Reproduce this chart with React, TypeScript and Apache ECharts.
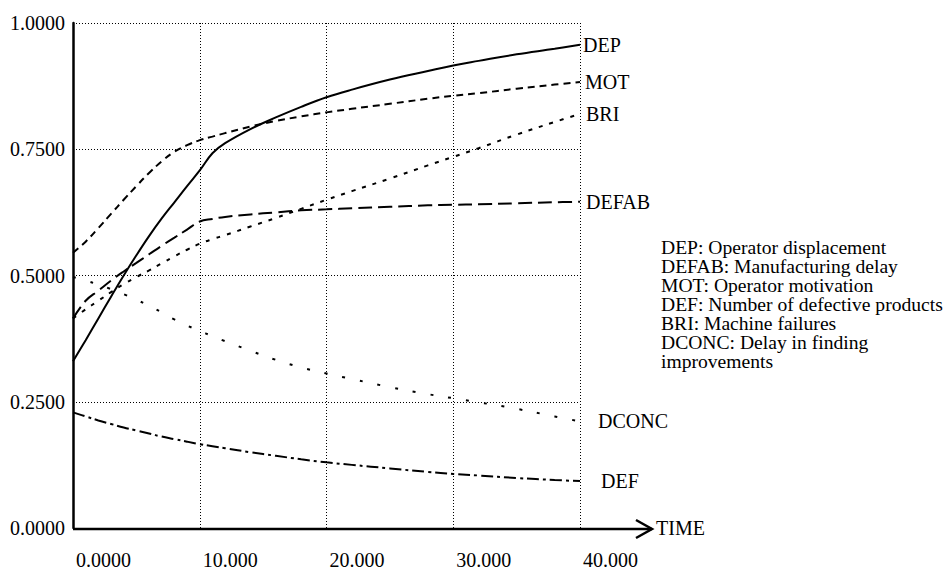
import React, { useEffect, useRef } from "react";
import * as echarts from "echarts";

const times = [0, 1, 2, 3, 4, 5, 6, 7, 8, 9, 10, 11, 12, 14, 16, 18, 20, 22, 25, 28, 30, 32, 35, 38, 40];

const DEP = [0.33, 0.372, 0.415, 0.458, 0.5, 0.54, 0.578, 0.613, 0.645, 0.677, 0.708, 0.742, 0.762, 0.79, 0.813, 0.834, 0.853, 0.868, 0.888, 0.905, 0.916, 0.925, 0.938, 0.949, 0.957];
const MOT = [0.545, 0.567, 0.594, 0.622, 0.65, 0.677, 0.703, 0.726, 0.745, 0.758, 0.768, 0.775, 0.782, 0.795, 0.806, 0.815, 0.823, 0.83, 0.84, 0.85, 0.856, 0.861, 0.87, 0.878, 0.883];
const BRI = [0.415, 0.433, 0.45, 0.467, 0.483, 0.497, 0.51, 0.524, 0.538, 0.551, 0.563, 0.572, 0.58, 0.597, 0.614, 0.632, 0.65, 0.667, 0.692, 0.718, 0.735, 0.752, 0.779, 0.804, 0.82];
const DEFAB = [0.415, 0.45, 0.47, 0.49, 0.508, 0.525, 0.542, 0.559, 0.575, 0.591, 0.607, 0.612, 0.616, 0.621, 0.625, 0.629, 0.631, 0.633, 0.636, 0.639, 0.64, 0.641, 0.643, 0.645, 0.646];
const DCONC = [0.497, 0.49, 0.482, 0.473, 0.463, 0.452, 0.44, 0.427, 0.413, 0.401, 0.39, 0.38, 0.37, 0.351, 0.333, 0.318, 0.306, 0.295, 0.279, 0.265, 0.257, 0.249, 0.236, 0.221, 0.211];
const DEF = [0.229, 0.221, 0.213, 0.206, 0.199, 0.193, 0.187, 0.181, 0.176, 0.171, 0.166, 0.162, 0.158, 0.15, 0.143, 0.136, 0.13, 0.125, 0.118, 0.111, 0.107, 0.104, 0.099, 0.095, 0.093];

const xTickLabels = ["0.0000", "10.000", "20.000", "30.000", "40.000"];
const legendLines = [
  "DEP: Operator displacement",
  "DEFAB: Manufacturing delay",
  "MOT: Operator motivation",
  "DEF: Number of defective products",
  "BRI: Machine failures",
  "DCONC: Delay in finding",
  "improvements",
];

const FONT = "Liberation Serif";

export default function App() {
  const ref = useRef<HTMLDivElement>(null);
  useEffect(() => {
    if (!ref.current) return;
    const chart = echarts.init(ref.current, undefined, { renderer: "svg" });
    const mk = (name: string, vals: number[], dash: any, dist: number) => ({
      name,
      type: "line",
      data: times.map((t, i) => [t, vals[i]]),
      showSymbol: false,
      smooth: 0.4,
      lineStyle: { color: "#000", width: 2, type: dash },
      endLabel: {
        show: true,
        formatter: "{a}",
        distance: dist,
        color: "#000",
        fontFamily: FONT,
        fontSize: 20,
      },
      z: 3,
    });
    const L = 73, T = 23, W = 507, H = 506;
    chart.setOption({
      animation: false,
      backgroundColor: "#fff",
      textStyle: { fontFamily: FONT },
      grid: { left: L, top: T, width: W, height: H, containLabel: false },
      xAxis: {
        type: "value",
        min: 0,
        max: 40,
        interval: 10,
        name: "TIME",
        nameLocation: "end",
        nameGap: 76,
        nameTextStyle: { color: "#000", fontFamily: FONT, fontSize: 20, padding: [0, 0, 8, 0] },
        axisLine: { show: false },
        axisTick: { show: false },
        axisLabel: {
          color: "#000",
          fontFamily: FONT,
          fontSize: 20,
          margin: 22,
          align: "left",
          padding: [0, 0, 0, 3],
          formatter: (v: number) => xTickLabels[Math.round(v / 10)] ?? "",
        },
        splitLine: { show: true, lineStyle: { color: "#000", width: 1, type: [1, 2] } },
      },
      yAxis: {
        type: "value",
        min: 0,
        max: 1,
        interval: 0.25,
        axisLine: { show: true, lineStyle: { color: "#000", width: 2.5 } },
        axisTick: { show: false },
        axisLabel: {
          color: "#000",
          fontFamily: FONT,
          fontSize: 20,
          margin: 8,
          padding: [0, 0, 8, 0],
          formatter: (v: number) => v.toFixed(4),
        },
        splitLine: { show: true, lineStyle: { color: "#000", width: 1, type: [1, 2] } },
      },
      series: [
        mk("DEP", DEP, "solid", 3),
        mk("MOT", MOT, [7, 5], 5),
        mk("BRI", BRI, [4, 7], 6),
        mk("DEFAB", DEFAB, [14, 6], 6),
        mk("DCONC", DCONC, [3, 15], 18),
        mk("DEF", DEF, [12, 4, 3, 4], 21),
      ],
      graphic: [
        {
          type: "line",
          shape: { x1: L, y1: T + H, x2: 652, y2: T + H },
          style: { stroke: "#000", lineWidth: 2.5 },
          z: 10,
        },
        {
          type: "polyline",
          shape: { points: [[636, T + H - 9], [652, T + H], [636, T + H + 9]] },
          style: { stroke: "#000", lineWidth: 2.5, fill: "none" },
          z: 10,
        },
        {
          type: "text",
          left: 661,
          top: 237,
          style: {
            text: legendLines.join("\n"),
            fontFamily: FONT,
            fontSize: 19.6,
            lineHeight: 19,
            fill: "#000",
          },
        },
      ],
    });
    return () => chart.dispose();
  }, []);
  return (
    <div
      ref={ref}
      style={{ position: "absolute", left: 0, top: 0, width: 951, height: 570 }}
    />
  );
}
